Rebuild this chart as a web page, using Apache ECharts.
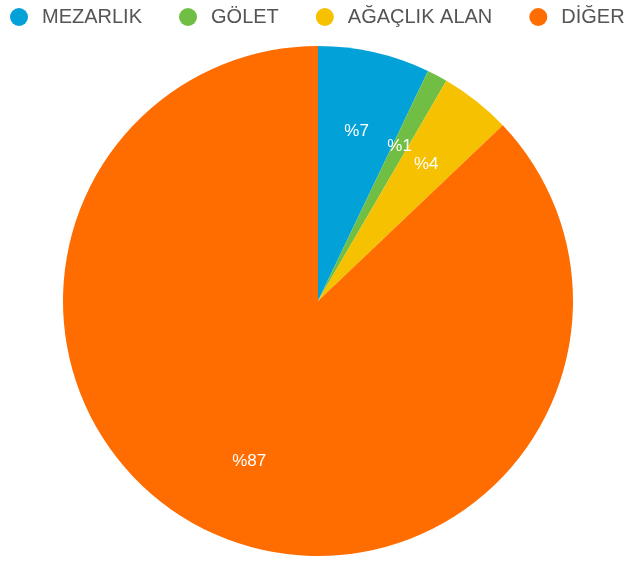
<!DOCTYPE html>
<html>
<head>
<meta charset="utf-8">
<script src="https://cdn.jsdelivr.net/npm/echarts@6/dist/echarts.min.js"></script>
<style>
  html, body { margin: 0; padding: 0; background: #fff; }
  #chart { width: 627px; height: 567px; }
</style>
</head>
<body>
<div id="chart"></div>
<script>
const categories = ["MEZARLIK", "GÖLET", "AĞAÇLIK ALAN", "DİĞER"];
const values = [7.1, 1.3, 4.5, 87.1];

const colors = {
  slices: ["#02a2d8", "#70bf44", "#f6c100", "#ff6c00"],
  text: "#555555",
};

const pieData = categories.map((name, i) => ({
  name,
  value: values[i],
  itemStyle: { color: colors.slices[i] },
}));

const chart = echarts.init(document.getElementById("chart"), null, { renderer: "canvas" });

const options = {
  animation: false,
  legend: {
    top: 7,
    left: 10,
    padding: 0,
    width: 627,
    icon: "circle",
    itemWidth: 18,
    itemHeight: 18,
    itemGap: 37,
    textStyle: {
      color: colors.text,
      fontSize: 20,
      fontFamily: "Liberation Sans, Arial, sans-serif",
      padding: [0, 0, 0, 9],
    },
    data: categories,
  },
  series: [
    {
      name: "Alan",
      type: "pie",
      center: [318, 301],
      radius: [0, 255],
      startAngle: 90,
      clockwise: true,
      label: { show: false },
      labelLine: { show: false },
      emphasis: { disabled: true },
      data: pieData,
    },
    {
      // transparent ring only used to place the percentage labels
      name: "labels",
      type: "pie",
      center: [318, 301],
      radius: [88, 255],
      startAngle: 90,
      clockwise: true,
      silent: true,
      legendHoverLink: false,
      itemStyle: { color: "transparent" },
      label: {
        show: true,
        position: "inside",
        color: "#ffffff",
        fontSize: 17,
        fontFamily: "Liberation Sans, Arial, sans-serif",
        formatter: (p) => "%" + Math.floor(p.percent),
      },
      labelLine: { show: false },
      data: categories.map((name, i) => ({ name: name + " ", value: values[i] })),
    },
  ],
};

chart.setOption(options);
</script>
</body>
</html>
